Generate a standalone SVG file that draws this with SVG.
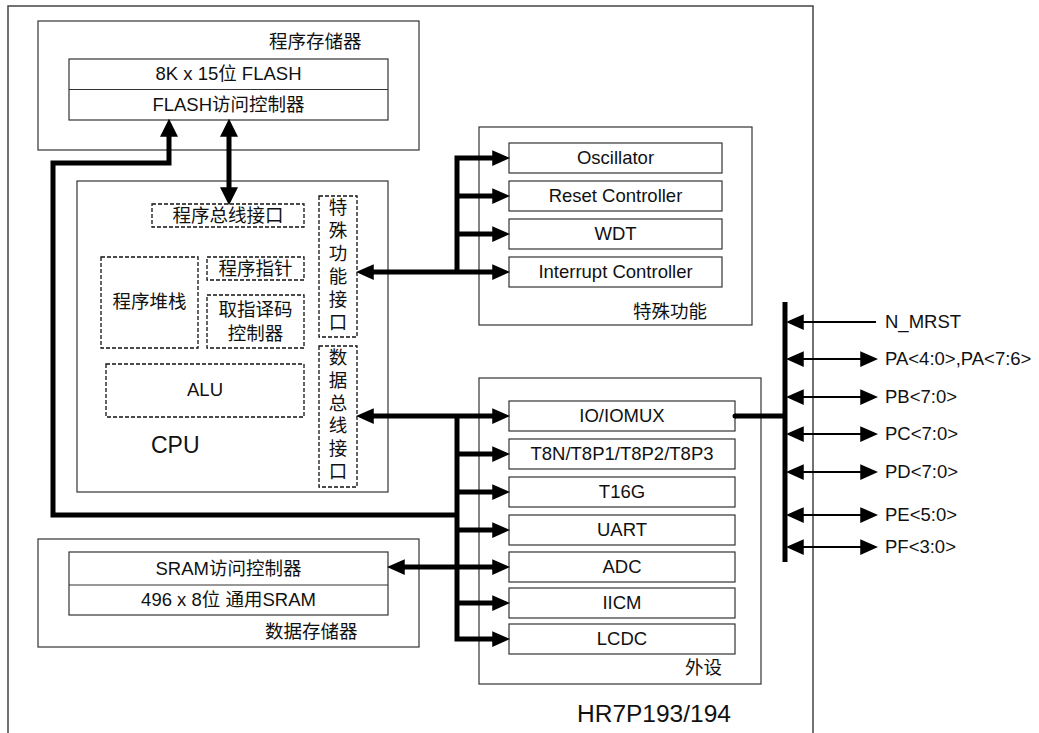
<svg xmlns="http://www.w3.org/2000/svg" width="1039" height="733" viewBox="0 0 1039 733">
<style>
text{font-family:"Liberation Sans","Noto Sans CJK SC",sans-serif;font-size:18.5px;fill:#111}
.c{text-anchor:middle}
.box{fill:#fff;stroke:#333;stroke-width:1.2}
.frame{fill:none;stroke:#444;stroke-width:1.5}
.dash{fill:none;stroke:#111;stroke-width:1.3;stroke-dasharray:4,2}
.thick{fill:none;stroke:#000;stroke-width:5;stroke-linejoin:miter}
.thin{fill:none;stroke:#000;stroke-width:2}
</style>
<defs>
<marker id="ah" markerUnits="userSpaceOnUse" markerWidth="18" markerHeight="16" viewBox="0 0 16 14" refX="6" refY="7" orient="auto-start-reverse">
<path d="M0,0 L16,7 L0,14 z" fill="#000"/>
</marker>
<marker id="ahb" markerUnits="userSpaceOnUse" markerWidth="18" markerHeight="18" viewBox="0 0 16 16" refX="6" refY="8" orient="auto-start-reverse">
<path d="M0,0 L16,8 L0,16 z" fill="#000"/>
</marker>
</defs>
<rect width="1039" height="733" fill="#fff"/>
<path class="frame" d="M8,733 L8,6 L813,6 L813,733"/>

<g id="program-memory">
<rect class="box" x="38" y="21" width="381" height="129"/>
<text x="269" y="48">程序存储器</text>
<rect class="box" x="69" y="59" width="319" height="61"/>
<line x1="69" y1="89.5" x2="388" y2="89.5" stroke="#333" stroke-width="1.2"/>
<text class="c" x="228.5" y="80">8K x 15位 FLASH</text>
<text class="c" x="228.5" y="111">FLASH访问控制器</text>
</g>

<g id="cpu">
<rect class="box" x="77" y="181" width="311" height="311"/>
<rect class="dash" x="152" y="204" width="152" height="23"/>
<text class="c" x="228" y="222">程序总线接口</text>
<rect class="dash" x="101" y="257" width="97" height="91"/>
<text class="c" x="149.5" y="308">程序堆栈</text>
<rect class="dash" x="207" y="257" width="97" height="23"/>
<text class="c" x="255.5" y="275">程序指针</text>
<rect class="dash" x="207" y="295" width="97" height="53"/>
<text class="c" x="255.5" y="316">取指译码</text>
<text class="c" x="255.5" y="340">控制器</text>
<rect class="dash" x="106" y="364" width="198" height="53"/>
<text class="c" x="205" y="396">ALU</text>
<rect class="dash" x="319" y="196" width="38" height="141"/>
<text class="c" x="338" y="214">特</text>
<text class="c" x="338" y="237">殊</text>
<text class="c" x="338" y="260">功</text>
<text class="c" x="338" y="283">能</text>
<text class="c" x="338" y="306">接</text>
<text class="c" x="338" y="329">口</text>
<rect class="dash" x="319" y="346" width="38" height="141"/>
<text class="c" x="338" y="364">数</text>
<text class="c" x="338" y="387">据</text>
<text class="c" x="338" y="410">总</text>
<text class="c" x="338" y="432">线</text>
<text class="c" x="338" y="455">接</text>
<text class="c" x="338" y="478">口</text>
<text x="151" y="453" style="font-size:23px">CPU</text>
</g>

<g id="special-functions">
<rect class="box" x="479" y="127" width="273" height="198"/>
<rect class="box" x="509" y="143" width="213" height="30"/>
<text class="c" x="615.5" y="164">Oscillator</text>
<rect class="box" x="509" y="181" width="213" height="30"/>
<text class="c" x="615.5" y="202">Reset Controller</text>
<rect class="box" x="509" y="219" width="213" height="30"/>
<text class="c" x="615.5" y="240">WDT</text>
<rect class="box" x="509" y="257" width="213" height="30"/>
<text class="c" x="615.5" y="278">Interrupt Controller</text>
<text x="633" y="318">特殊功能</text>
</g>

<g id="peripherals">
<rect class="box" x="479" y="378" width="282" height="306"/>
<rect class="box" x="509" y="401" width="226" height="30"/>
<text class="c" x="622" y="422">IO/IOMUX</text>
<rect class="box" x="509" y="439" width="226" height="30"/>
<text class="c" x="622" y="460">T8N/T8P1/T8P2/T8P3</text>
<rect class="box" x="509" y="477" width="226" height="30"/>
<text class="c" x="622" y="498">T16G</text>
<rect class="box" x="509" y="515" width="226" height="30"/>
<text class="c" x="622" y="536">UART</text>
<rect class="box" x="509" y="552" width="226" height="30"/>
<text class="c" x="622" y="573">ADC</text>
<rect class="box" x="509" y="588" width="226" height="30"/>
<text class="c" x="622" y="609">IICM</text>
<rect class="box" x="509" y="624" width="226" height="30"/>
<text class="c" x="622" y="645">LCDC</text>
<text x="685" y="674">外设</text>
</g>

<g id="data-memory">
<rect class="box" x="38" y="539" width="381" height="108"/>
<rect class="box" x="69" y="552" width="319" height="63"/>
<line x1="69" y1="585" x2="388" y2="585" stroke="#333" stroke-width="1.2"/>
<text class="c" x="228.5" y="575">SRAM访问控制器</text>
<text class="c" x="228.5" y="606">496 x 8位 通用SRAM</text>
<text x="265" y="638">数据存储器</text>
</g>

<g id="ports">
<text x="885" y="328">N_MRST</text>
<text x="885" y="365">PA&lt;4:0&gt;,PA&lt;7:6&gt;</text>
<text x="885" y="403">PB&lt;7:0&gt;</text>
<text x="885" y="440">PC&lt;7:0&gt;</text>
<text x="885" y="478">PD&lt;7:0&gt;</text>
<text x="885" y="521">PE&lt;5:0&gt;</text>
<text x="885" y="553">PF&lt;3:0&gt;</text>
</g>

<g id="chip-label">
<text x="577" y="722" style="font-size:24.5px">HR7P193/194</text>
</g>

<g id="connectors">
<path class="thick" d="M457,515 L53,515 L53,163 L169,163 L169,130" marker-end="url(#ahb)"/>
<path class="thick" d="M229,130 L229,194" marker-start="url(#ahb)" marker-end="url(#ahb)"/>
<path class="thick" d="M367,272 L499,272" marker-start="url(#ah)" marker-end="url(#ah)"/>
<path class="thick" d="M457,272 L457,158 L499,158" marker-end="url(#ah)"/>
<path class="thick" d="M457,196 L499,196" marker-end="url(#ah)"/>
<path class="thick" d="M457,234 L499,234" marker-end="url(#ah)"/>
<path class="thick" d="M367,416 L499,416" marker-start="url(#ah)" marker-end="url(#ah)"/>
<path class="thick" d="M457,416 L457,639 L499,639" marker-end="url(#ah)"/>
<path class="thick" d="M457,454 L499,454" marker-end="url(#ah)"/>
<path class="thick" d="M457,492 L499,492" marker-end="url(#ah)"/>
<path class="thick" d="M457,530 L499,530" marker-end="url(#ah)"/>
<path class="thick" d="M398,567 L499,567" marker-start="url(#ah)" marker-end="url(#ah)"/>
<path class="thick" d="M457,603 L499,603" marker-end="url(#ah)"/>
<path class="thick" d="M735,416 L785,416"/>
<circle cx="735" cy="416" r="2.5" fill="#000"/>
<path class="thick" d="M785,302 L785,562"/>
<path class="thin" d="M876,322 L797,322" marker-end="url(#ah)"/>
<path class="thin" d="M797,359 L867,359" marker-start="url(#ah)" marker-end="url(#ah)"/>
<path class="thin" d="M797,397 L867,397" marker-start="url(#ah)" marker-end="url(#ah)"/>
<path class="thin" d="M797,434 L867,434" marker-start="url(#ah)" marker-end="url(#ah)"/>
<path class="thin" d="M797,472 L867,472" marker-start="url(#ah)" marker-end="url(#ah)"/>
<path class="thin" d="M797,515 L867,515" marker-start="url(#ah)" marker-end="url(#ah)"/>
<path class="thin" d="M797,547 L867,547" marker-start="url(#ah)" marker-end="url(#ah)"/>
</g>
</svg>
